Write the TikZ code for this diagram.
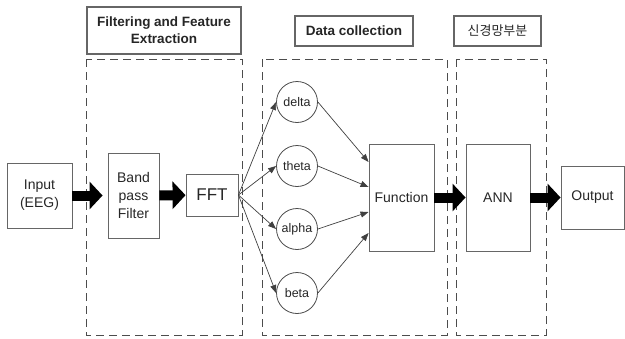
\documentclass[tikz,border=0pt]{standalone}
\usepackage{fontspec}
\setmainfont{Liberation Sans}
\newfontfamily\krfont{Noto Sans CJK KR}
\usetikzlibrary{arrows.meta}

\tikzset{
    box/.style={draw=black!60, line width=0.9pt, inner sep=0pt, align=center,
        text=black!85, font=\fontsize{14}{18}\selectfont},
    titlebox/.style={box, line width=1.2pt, font=\bfseries\fontsize{13.5}{17}\selectfont},
    wavenode/.style={draw=black!70, line width=0.8pt, circle, minimum size=41pt,
        inner sep=0pt, text=black!85, font=\fontsize{12.5}{14}\selectfont},
    groupbox/.style={draw=black!70, line width=1pt, dash pattern=on 8pt off 5pt},
    bigarrow/.style={line width=10pt, -{Triangle[length=13pt,width=27pt]}},
    thinarrow/.style={draw=black!75, line width=0.7pt, -{Triangle[length=8pt,width=6pt]}}
}

\begin{document}
\begin{tikzpicture}[x=1pt, y=-1pt]
    \useasboundingbox (0,0) rectangle (625,338);
    % Titles of the three stages
    \node[titlebox, minimum width=154pt, minimum height=47pt] (t1) at (164,30.5) {Filtering and Feature\\Extraction};
    \node[titlebox, minimum width=118pt, minimum height=30pt] (t2) at (354,31) {Data collection};
    \node[titlebox, minimum width=87pt, minimum height=30pt, font=\krfont\fontsize{13}{15}\selectfont] (t3) at (497.5,31) {신경망부분};
    % Dashed stage boxes
    \draw[groupbox] (86,59) rectangle (242,335);
    \draw[groupbox] (262,59) rectangle (447,335);
    \draw[groupbox] (456,59) rectangle (546,335);
    % Processing blocks
    \node[box, minimum width=65pt, minimum height=65pt] (input) at (39.5,195.5) {Input\\(EEG)};
    \node[box, minimum width=51pt, minimum height=85pt] (band) at (133.5,195.5) {Band\\pass\\Filter};
    \node[box, minimum width=52pt, minimum height=42pt, font=\fontsize{17}{20}\selectfont] (fft) at (212,195) {FFT};
    \node[box, minimum width=65pt, minimum height=107pt] (func) at (401.5,197.5) {Function};
    \node[box, minimum width=64pt, minimum height=107pt] (ann) at (498,197.5) {ANN};
    \node[box, minimum width=63pt, minimum height=63pt] (output) at (592.5,197.5) {Output};
    % Frequency bands
    \node[wavenode] (delta) at (297,102) {delta};
    \node[wavenode] (theta) at (297,166) {theta};
    \node[wavenode] (alpha) at (297,229) {alpha};
    \node[wavenode] (beta) at (297,293) {beta};
    % Thick arrows between blocks
    \draw[bigarrow, shorten >=5pt] (input) -- (band);
    \draw[bigarrow] (band) -- (fft);
    \draw[bigarrow] (func) -- (ann);
    \draw[bigarrow] (ann) -- (output);
    % Thin arrows through the bands
    \foreach \w/\s in {delta/35.5, theta/10.5, alpha/-14.5, beta/-35.5} {
        \draw[thinarrow] (fft.east) -- (\w.west);
        \draw[thinarrow] (\w.east) -- ([yshift=\s pt]func.west);
    }
\end{tikzpicture}
\end{document}
